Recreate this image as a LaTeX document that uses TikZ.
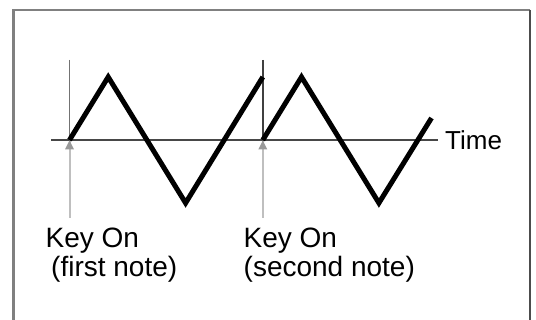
\documentclass[tikz,border=0pt]{standalone}
\usepackage{fontspec}
\setmainfont{Liberation Sans}
\begin{document}
\begin{tikzpicture}[x=1pt,y=-1pt,
  frameline/.style={draw=black!50, line width=2.5pt},
  frameshade/.style={draw=black!70, line width=2.5pt},
  axisline/.style={draw=black!72, line width=2pt},
  upline/.style={draw=black!55, line width=1.8pt},
  upline2/.style={draw=black!75, line width=1.6pt},
  lowline/.style={draw=black!25, line width=2pt},
  tri/.style={fill=black!40, draw=none},
  wave/.style={draw=black, line width=5pt, line join=miter},
  lbl/.style={font=\fontsize{28}{29}\selectfont, inner sep=0pt, anchor=base west},
  tlbl/.style={font=\fontsize{26}{28}\selectfont, inner sep=0pt, anchor=base west}]
\useasboundingbox (0,0) rectangle (536,320);
\fill[white] (0,0) rectangle (536,320);
% frame (bottom runs off the picture)
\draw[frameline] (13.5,330) -- (13.5,10) -- (530,10);
\draw[frameshade] (530,10) -- (530,330);
% key-on markers
\coordinate (k1t) at (69.5,60);
\coordinate (k1a) at (69.5,140);
\coordinate (k1b) at (69.5,218);
\coordinate (k2t) at (262.8,60);
\coordinate (k2a) at (262.8,140);
\coordinate (k2b) at (262.8,218);
\draw[lowline] (k1a) -- (k1b);
\draw[lowline] (k2a) -- (k2b);
% axis
\coordinate (ax0) at (51,140);
\coordinate (ax1) at (438,140);
\draw[axisline] (ax0) -- (ax1);
\draw[upline] (k1t) -- (k1a);
\draw[upline2] (k2t) -- (k2a);
\fill[tri] (69.5,140.5) -- (65,149.5) -- (74,149.5) -- cycle;
\fill[tri] (262.8,140.5) -- (258.3,149.5) -- (267.3,149.5) -- cycle;
% waves
\draw[wave] (k1a) -- (108.2,77) -- (185.6,203) -- (262.8,77);
\draw[wave] (k2a) -- (301.5,77) -- (378.9,203) -- (431.5,118);
% labels
\node[tlbl] (time) at (445,150) {Time};
\node[lbl] (l1a) at (45.5,248) {Key On};
\node[lbl] (l1b) at (51,277) {(first note)};
\node[lbl] (l2a) at (243.5,248) {Key On};
\node[lbl] (l2b) at (243.5,277) {(second note)};
\end{tikzpicture}
\end{document}
